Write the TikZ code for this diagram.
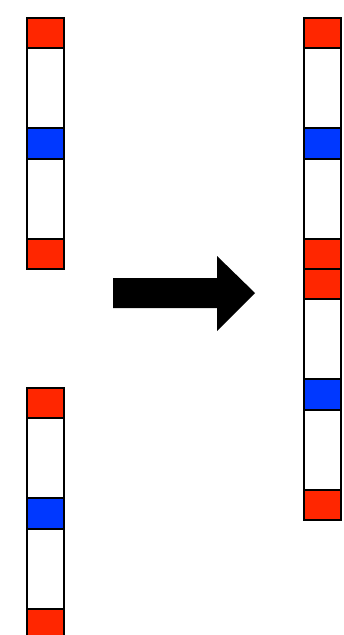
\documentclass[tikz,border=0pt]{standalone}
\definecolor{capred}{RGB}{255,38,0}
\definecolor{midblue}{RGB}{0,56,255}
\tikzset{
  seg/.style={draw=black, line width=1.7pt},
}
% one strand: top left corner at (#1,#2), 37 wide, 251 long
\newcommand{\strand}[2]{%
  \filldraw[seg,fill=white] (#1,#2) rectangle ++(37,251);
  \filldraw[seg,fill=capred] (#1,#2) rectangle ++(37,30);
  \filldraw[seg,fill=midblue] (#1,#2+110) rectangle ++(37,31);
  \filldraw[seg,fill=capred] (#1,#2+221) rectangle ++(37,30);
}
\begin{document}
\begin{tikzpicture}[x=0.75pt,y=-0.75pt]
    \useasboundingbox (0,0) rectangle (343,635);
    \clip (0,0) rectangle (343,635);
    \strand{27}{18}
    \strand{27}{388}
    \strand{304}{18}
    \strand{304}{269}
    \fill[black] (113,278) -- (217,278) -- (217,256) -- (255,293) -- (217,331) -- (217,308) -- (113,308) -- cycle;
\end{tikzpicture}
\end{document}
